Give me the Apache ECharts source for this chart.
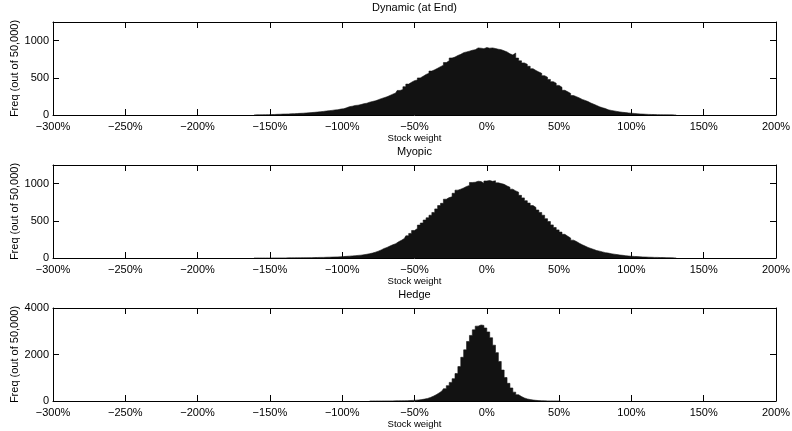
<!DOCTYPE html>
<html>
<head>
<meta charset="utf-8">
<title>Stock weight distributions</title>
<script src="https://cdn.jsdelivr.net/npm/echarts@6/dist/echarts.min.js"></script>
<style>
  html, body { margin: 0; padding: 0; background: #fff; }
  #chart { width: 792px; height: 431px; }
</style>
</head>
<body>
<div id="chart"></div>
<script>
// Histogram bins: 2% wide; counts listed from the first bin centre upward.
const binWidth = 2;
const mainStart = -159;   // first bin centre for Dynamic and Myopic
const hedgeStart = -79;   // first bin centre for Hedge

const panelTitles = ['Dynamic (at End)', 'Myopic', 'Hedge'];
const xTicks = { min: -300, max: 200, interval: 50 };
const yScales = [
  { max: 1250, interval: 500 },
  { max: 1250, interval: 500 },
  { max: 4000, interval: 2000 }
];

const dynamicCounts = [
  2, 2, 3, 4, 5, 6, 7, 9, 10, 12,
  13, 14, 17, 18, 20, 22, 24, 27, 29, 33,
  36, 40, 44, 48, 53, 58, 62, 68, 71, 79,
  84, 96, 112, 118, 128, 132, 140, 152, 158, 172,
  182, 190, 205, 220, 232, 245, 262, 280, 296, 330,
  342, 380, 415, 440, 462, 470, 498, 520, 545, 560,
  590, 608, 628, 650, 668, 705, 728, 766, 778, 800,
  815, 838, 848, 858, 870, 878, 902, 898, 892, 906,
  898, 902, 893, 884, 878, 862, 848, 822, 808, 832,
  765, 728, 700, 682, 655, 622, 598, 578, 560, 528,
  508, 478, 448, 428, 398, 372, 332, 312, 290, 262,
  246, 230, 210, 196, 180, 160, 145, 128, 110, 98,
  86, 70, 62, 55, 48, 42, 36, 32, 28, 24,
  21, 17, 14, 12, 10, 8, 7, 6, 5, 4,
  3, 3, 2, 2, 1
];

const myopicCounts = [
  0, 0, 0, 0, 0, 0, 1, 1, 1, 1,
  1, 2, 2, 2, 3, 3, 4, 4, 5, 5,
  6, 7, 8, 8, 10, 11, 12, 14, 15, 17,
  19, 22, 25, 28, 31, 35, 38, 44, 50, 58,
  66, 78, 92, 108, 128, 142, 160, 178, 192, 218,
  238, 262, 298, 330, 370, 396, 442, 470, 510, 540,
  575, 612, 660, 705, 735, 790, 812, 822, 870, 912,
  925, 942, 962, 975, 1015, 1018, 1032, 1028, 1005, 1035,
  1042, 1030, 1038, 1010, 1000, 990, 968, 952, 925, 902,
  885, 842, 808, 770, 738, 705, 680, 645, 612, 575,
  528, 490, 445, 410, 378, 348, 318, 292, 268, 240,
  222, 198, 178, 160, 142, 128, 115, 100, 92, 82,
  72, 66, 58, 52, 46, 40, 36, 31, 27, 23,
  21, 19, 16, 14, 13, 11, 10, 8, 8, 6,
  6, 5, 4, 3, 2
];

const hedgeCounts = [
  1, 1, 2, 2, 3, 3, 4, 5, 6, 8,
  10, 12, 15, 20, 26, 34, 45, 60, 82, 110,
  150, 205, 270, 345, 430, 530, 660, 800, 960, 1180,
  1480, 1880, 2200, 2560, 2820, 3060, 3220, 3270, 3250, 3140,
  2970, 2720, 2400, 2080, 1700, 1330, 1010, 760, 560, 380,
  270, 190, 130, 90, 62, 42, 28, 18, 12, 8,
  5, 3, 2, 1, 1
];

// Pair counts with bin centres; a zero on each side closes the stepped outline.
function toSteps(start, counts) {
  const pts = [[start - binWidth, 0]];
  counts.forEach((c, i) => pts.push([start + i * binWidth, c]));
  pts.push([start + counts.length * binWidth, 0]);
  return pts;
}

const panelData = [
  toSteps(mainStart, dynamicCounts),
  toSteps(mainStart, myopicCounts),
  toSteps(hedgeStart, hedgeCounts)
];

const FONT = '"Liberation Sans", Arial, Helvetica, sans-serif';
const ink = '#000';
const fill = '#121212';
const gridTops = [22, 165, 308];
const plotH = 93;
const titleTops = [2, 146, 289];

const pctLabel = v => (v < 0 ? '\u2212' + (-v) : String(v)) + '%';

const tickStyle = { inside: true, length: 6, lineStyle: { color: ink, width: 1 } };
const lineStyle = { onZero: false, lineStyle: { color: ink, width: 1 } };

const grids = [], xAxes = [], yAxes = [], series = [], titles = [];

for (let i = 0; i < 3; i++) {
  grids.push({ left: 53, right: 16, top: gridTops[i], height: plotH,
               containLabel: false, outerBoundsMode: 'none' });

  titles.push({
    text: panelTitles[i],
    left: 414.5, top: titleTops[i], textAlign: 'center', padding: 0,
    textStyle: { fontFamily: FONT, fontSize: 11, fontWeight: 'normal', color: ink }
  });

  xAxes.push({
    gridIndex: i, type: 'value', position: 'bottom',
    min: xTicks.min, max: xTicks.max, interval: xTicks.interval,
    axisLine: lineStyle, axisTick: tickStyle, splitLine: { show: false },
    axisLabel: { formatter: pctLabel, margin: 6, fontFamily: FONT, fontSize: 11, color: ink },
    name: 'Stock weight', nameLocation: 'middle', nameGap: 18, nameMoveOverlap: false,
    nameTextStyle: { fontFamily: FONT, fontSize: 9.5, color: ink }
  });
  xAxes.push({
    gridIndex: i, type: 'value', position: 'top',
    min: xTicks.min, max: xTicks.max, interval: xTicks.interval,
    axisLine: lineStyle, axisTick: tickStyle, splitLine: { show: false },
    axisLabel: { show: false }
  });

  yAxes.push({
    gridIndex: i, type: 'value', position: 'left',
    min: 0, max: yScales[i].max, interval: yScales[i].interval,
    axisLine: lineStyle, axisTick: tickStyle, splitLine: { show: false },
    axisLabel: { margin: 4, formatter: v => String(v),
                 showMaxLabel: yScales[i].max % yScales[i].interval === 0,
                 fontFamily: FONT, fontSize: 11, color: ink },
    name: 'Freq (out of 50,000)', nameLocation: 'middle', nameGap: 33, nameRotate: 90,
    nameMoveOverlap: false,
    nameTextStyle: { fontFamily: FONT, fontSize: 11, color: ink }
  });
  yAxes.push({
    gridIndex: i, type: 'value', position: 'right',
    min: 0, max: yScales[i].max, interval: yScales[i].interval,
    axisLine: lineStyle, axisTick: tickStyle, splitLine: { show: false },
    axisLabel: { show: false }
  });

  series.push({
    type: 'line', step: 'middle',
    xAxisIndex: i * 2, yAxisIndex: i * 2,
    data: panelData[i], symbol: 'none', silent: true,
    lineStyle: { color: fill, width: 0.6 },
    areaStyle: { color: fill, opacity: 1 },
    z: 1
  });
}

const chart = echarts.init(document.getElementById('chart'), null, { renderer: 'canvas' });
chart.setOption({
  animation: false,
  backgroundColor: '#fff',
  title: titles,
  grid: grids,
  xAxis: xAxes,
  yAxis: yAxes,
  series: series
});
</script>
</body>
</html>
